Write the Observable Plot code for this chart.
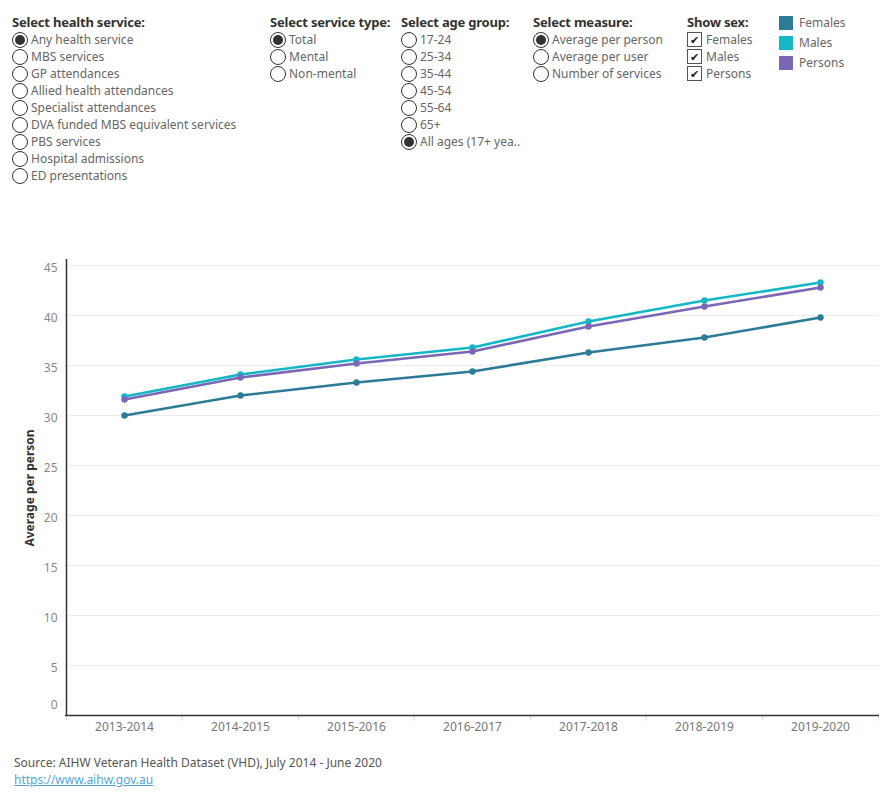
<!DOCTYPE html>
<html>
<head>
<meta charset="utf-8">
<script src="https://cdn.jsdelivr.net/npm/d3@7"></script>
<script src="https://cdn.jsdelivr.net/npm/@observablehq/plot@0.6"></script>
<style>
  body { margin: 0; width: 890px; height: 800px; position: relative; background: #fff; font-family: "Noto Sans", "Open Sans", sans-serif; color: #555; overflow: hidden; }
  .col { position: absolute; top: 13px; }
  .hdr { font-weight: bold; font-size: 13px; color: #333; height: 18px; line-height: 18px; white-space: nowrap; letter-spacing: -0.2px; }
  .item { font-size: 12px; color: #666; height: 17px; line-height: 17px; white-space: nowrap; display: flex; align-items: center; }
  .radio { width: 16px; height: 16px; border: 1px solid #333; border-radius: 50%; box-sizing: border-box; margin-right: 3px; display: inline-flex; align-items: center; justify-content: center; background: #fff; }
  .radio.on::after { content: ""; width: 10px; height: 10px; border-radius: 50%; background: #333; }
  .check { width: 15px; height: 15px; border: 1px solid #555; box-sizing: border-box; margin-right: 4px; display: inline-flex; align-items: center; justify-content: center; font-size: 11px; color: #222; background: #fff; }
  .legend { position: absolute; left: 779px; top: 13px; }
  .legend .li { font-size: 12px; color: #666; height: 20px; line-height: 18px; display: flex; align-items: center; }
  .legend .sw { width: 14px; height: 14px; margin-right: 6px; }
  #chart { position: absolute; left: 0; top: 240px; }
  .ylabel { position: absolute; left: 29px; top: 488px; transform: translate(-50%, -50%) rotate(-90deg); font-size: 12px; font-weight: bold; color: #333; white-space: nowrap; }
  .source { position: absolute; left: 14px; top: 754px; font-size: 12px; color: #555; }
  .link { position: absolute; left: 14px; top: 771px; font-size: 12px; color: #4fa8d8; text-decoration: underline; }
</style>
</head>
<body>
<div id="controls"></div>
<div id="chart"></div>
<div class="ylabel">Average per person</div>
<div class="source">Source: AIHW Veteran Health Dataset (VHD), July 2014 - June 2020</div>
<div class="link">https://www.aihw.gov.au</div>
<script>
// ---- Data ----
const years = ["2013-2014", "2014-2015", "2015-2016", "2016-2017", "2017-2018", "2018-2019", "2019-2020"];
const females = [30.0, 32.0, 33.3, 34.4, 36.3, 37.8, 39.8];
const males   = [31.9, 34.1, 35.6, 36.8, 39.4, 41.5, 43.3];
const persons = [31.6, 33.8, 35.2, 36.4, 38.9, 40.9, 42.8];
const seriesNames = ["Females", "Males", "Persons"];
const seriesColors = ["#2e7b97", "#14b7c5", "#7b67b6"];
const yTicks = [0, 5, 10, 15, 20, 25, 30, 35, 40, 45];

const healthServices = ["Any health service", "MBS services", "GP attendances", "Allied health attendances", "Specialist attendances", "DVA funded MBS equivalent services", "PBS services", "Hospital admissions", "ED presentations"];
const serviceTypes = ["Total", "Mental", "Non-mental"];
const ageGroups = ["17-24", "25-34", "35-44", "45-54", "55-64", "65+", "All ages (17+ yea.."];
const measures = ["Average per person", "Average per user", "Number of services"];

// ---- Controls ----
const controls = document.getElementById("controls");
function radioCol(left, title, items, selected) {
  const c = document.createElement("div");
  c.className = "col"; c.style.left = left + "px";
  c.innerHTML = `<div class="hdr">${title}</div>` + items.map((d, i) =>
    `<div class="item"><span class="radio${i === selected ? " on" : ""}"></span>${d}</div>`).join("");
  controls.appendChild(c);
}
radioCol(12, "Select health service:", healthServices, 0);
radioCol(270, "Select service type:", serviceTypes, 0);
radioCol(401, "Select age group:", ageGroups, 6);
radioCol(533, "Select measure:", measures, 0);
{
  const c = document.createElement("div");
  c.className = "col"; c.style.left = "687px";
  c.innerHTML = `<div class="hdr">Show sex:</div>` + seriesNames.map(d =>
    `<div class="item"><span class="check">&#10004;</span>${d}</div>`).join("");
  controls.appendChild(c);
  const l = document.createElement("div");
  l.className = "legend";
  l.innerHTML = seriesNames.map((d, i) =>
    `<div class="li"><span class="sw" style="background:${seriesColors[i]}"></span>${d}</div>`).join("");
  controls.appendChild(l);
}

// ---- Chart ----
const rows = [];
[females, males, persons].forEach((vals, s) => {
  vals.forEach((v, i) => rows.push({year: years[i], value: v, sex: seriesNames[s]}));
});

const plot = Plot.plot({
  width: 890,
  height: 505,
  marginTop: 19,
  marginBottom: 30,
  marginLeft: 65,
  marginRight: 11,
  style: {fontFamily: "'Noto Sans', 'Open Sans', sans-serif", fontSize: "11px", color: "#777", background: "#fff"},
  x: {type: "point", domain: years, padding: 0.5, label: null},
  y: {domain: [0, 45.6], label: null},
  color: {domain: seriesNames, range: seriesColors},
  marks: [
    Plot.ruleY(yTicks.slice(1), {stroke: "#ececec", strokeWidth: 1}),
    Plot.axisY(yTicks.slice(1), {tickSize: 0, tickPadding: 8, dy: 3, fill: "#888", fontSize: 12, label: null}),
    Plot.axisY([0], {tickSize: 0, tickPadding: 8, dy: -10, fill: "#888", fontSize: 12, label: null}),
    Plot.axisX(years, {tickSize: 0, tickPadding: 7, fill: "#777", fontSize: 12, label: null}),
    // band-edge ticks below the x axis
    Plot.ruleX(years, {x: d => d, y1: 0, y2: -0.55, dx: -58, stroke: "#e2e2e2", strokeWidth: 1}),
    Plot.ruleX(years.slice(-1), {x: d => d, y1: 0, y2: -0.55, dx: 58, stroke: "#e2e2e2", strokeWidth: 1}),
    Plot.line(rows, {x: "year", y: "value", z: "sex", stroke: "sex", strokeWidth: 2.6, curve: "linear"}),
    Plot.dot(rows, {x: "year", y: "value", fill: "sex", r: 3.2}),
    Plot.ruleY([0], {stroke: "#333", strokeWidth: 1.5}),
    Plot.ruleX([years[0]], {dx: -58, stroke: "#333", strokeWidth: 1.5})
  ]
});
document.getElementById("chart").appendChild(plot);
</script>
</body>
</html>
